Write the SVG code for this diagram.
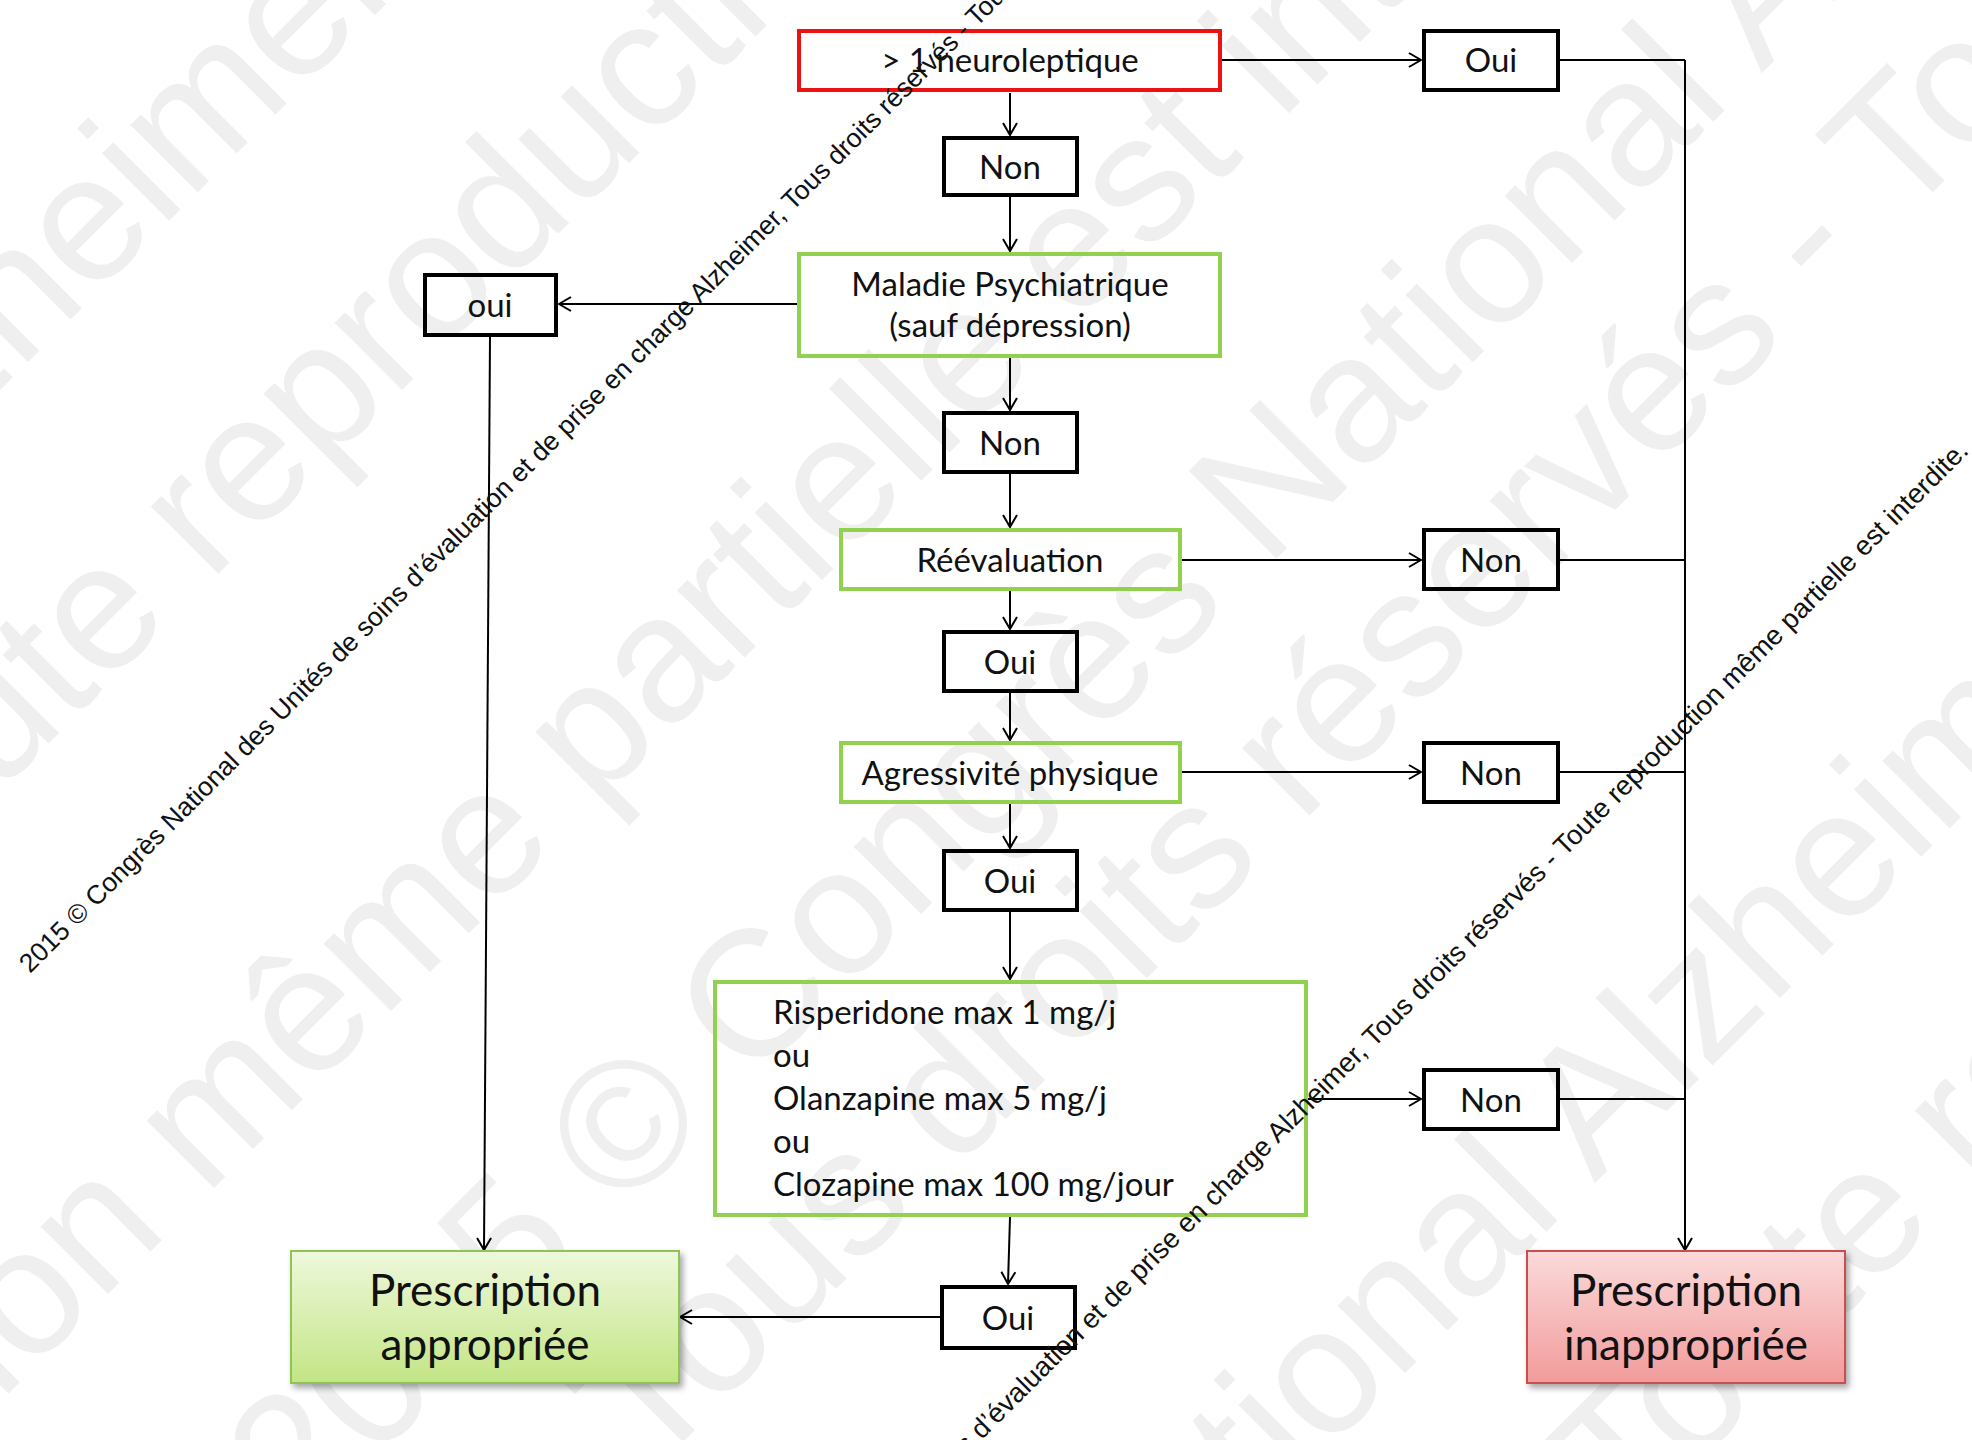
<svg xmlns="http://www.w3.org/2000/svg" width="1972" height="1440" viewBox="0 0 1972 1440">
<defs>
<style>
.lbl{font-family:Lato,"Liberation Sans",sans-serif;font-size:33px;fill:#111;text-anchor:middle}
.big{font-family:Lato,"Liberation Sans",sans-serif;font-size:44px;fill:#111;text-anchor:middle}
.left{font-family:Lato,"Liberation Sans",sans-serif;font-size:33px;fill:#111}
.bx{fill:none;stroke:#000;stroke-width:4}
.gb{fill:none;stroke:#92d050;stroke-width:4}
.rb{fill:none;stroke:#ee1111;stroke-width:4}
.cn{fill:none;stroke:#000;stroke-width:2}
.wm{font-family:"Liberation Sans",Arial,sans-serif;font-size:180px;fill:#efefef}
.wt{font-family:"Liberation Sans",Arial,sans-serif;font-size:26.5px;fill:#111}
</style>
<marker id="ah" markerWidth="14" markerHeight="16" refX="13" refY="8" orient="auto" markerUnits="userSpaceOnUse">
<path d="M1,1 L13,8 L1,15" fill="none" stroke="#000" stroke-width="2"/>
</marker>
<linearGradient id="gG" x1="0" y1="0" x2="0" y2="1">
<stop offset="0" stop-color="#eef8dc"/>
<stop offset="1" stop-color="#c3e584"/>
</linearGradient>
<linearGradient id="gR" x1="0" y1="0" x2="0" y2="1">
<stop offset="0" stop-color="#fbdada"/>
<stop offset="1" stop-color="#f29b9b"/>
</linearGradient>
<filter id="sh" x="-10%" y="-10%" width="125%" height="130%">
<feDropShadow dx="3" dy="4" stdDeviation="3" flood-color="#000" flood-opacity="0.35"/>
</filter>
</defs>
<rect x="0" y="0" width="1972" height="1440" fill="#ffffff"/>

<g id="watermark-gray">
<text class="wm" transform="translate(-1617,2007) rotate(-45)">2015 © Congrès National Alzheimer,</text>
<text class="wm" transform="translate(-1387,2179) rotate(-45)">Tous droits réservés - Toute reproduction même partielle est interdite.</text>
<text class="wm" transform="translate(-2134,3536) rotate(-45)">Tous droits réservés - Toute reproduction même partielle est interdite.</text>
<text class="wm" transform="translate(302,1533) rotate(-45)">2015 © Congrès National Alzheimer,</text>
<text class="wm" transform="translate(650,1475) rotate(-45)">Tous droits réservés - Toute reproduction même partielle est interdite.</text>
<text class="wm" transform="translate(135,2643) rotate(-45)">2015 © Congrès National Alzheimer,</text>
<text class="wm" transform="translate(377,2783) rotate(-45)">Tous droits réservés - Toute reproduction même partielle est interdite.</text>
</g>

<g id="connectors">
<line class="cn" x1="1222" y1="60" x2="1421" y2="60" marker-end="url(#ah)"/>
<line class="cn" x1="1560" y1="60" x2="1685" y2="60"/>
<line class="cn" x1="1685" y1="60" x2="1685" y2="1250" marker-end="url(#ah)"/>
<line class="cn" x1="1560" y1="560" x2="1685" y2="560"/>
<line class="cn" x1="1560" y1="772" x2="1685" y2="772"/>
<line class="cn" x1="1560" y1="1099" x2="1685" y2="1099"/>
<line class="cn" x1="1010" y1="93" x2="1010" y2="135" marker-end="url(#ah)"/>
<line class="cn" x1="1010" y1="197" x2="1010" y2="251" marker-end="url(#ah)"/>
<line class="cn" x1="797" y1="304" x2="559" y2="304" marker-end="url(#ah)"/>
<line class="cn" x1="490" y1="337" x2="484" y2="1250" marker-end="url(#ah)"/>
<line class="cn" x1="1010" y1="358" x2="1010" y2="410" marker-end="url(#ah)"/>
<line class="cn" x1="1010" y1="474" x2="1010" y2="527" marker-end="url(#ah)"/>
<line class="cn" x1="1182" y1="560" x2="1421" y2="560" marker-end="url(#ah)"/>
<line class="cn" x1="1010" y1="591" x2="1010" y2="629" marker-end="url(#ah)"/>
<line class="cn" x1="1010" y1="693" x2="1010" y2="740" marker-end="url(#ah)"/>
<line class="cn" x1="1182" y1="772" x2="1421" y2="772" marker-end="url(#ah)"/>
<line class="cn" x1="1010" y1="804" x2="1010" y2="848" marker-end="url(#ah)"/>
<line class="cn" x1="1010" y1="912" x2="1010" y2="979" marker-end="url(#ah)"/>
<line class="cn" x1="1308" y1="1099" x2="1421" y2="1099" marker-end="url(#ah)"/>
<line class="cn" x1="1010" y1="1217" x2="1008" y2="1284" marker-end="url(#ah)"/>
<line class="cn" x1="940" y1="1317" x2="680" y2="1317" marker-end="url(#ah)"/>
</g>

<g id="n-neuro"><rect class="rb" x="799" y="31" width="421" height="59"/><text class="lbl" x="1010" y="72">&gt; 1 neuroleptique</text></g>
<g id="n-oui-top"><rect class="bx" x="1424" y="31" width="134" height="59"/><text class="lbl" x="1491" y="72">Oui</text></g>
<g id="n-non1"><rect class="bx" x="944" y="138" width="133" height="57"/><text class="lbl" x="1010" y="179">Non</text></g>
<g id="n-maladie"><rect class="gb" x="799" y="254" width="421" height="102"/><text class="lbl" x="1010" y="296">Maladie Psychiatrique</text><text class="lbl" x="1010" y="337">(sauf dépression)</text></g>
<g id="n-oui-left"><rect class="bx" x="425" y="275" width="131" height="60"/><text class="lbl" x="490" y="317">oui</text></g>
<g id="n-non2"><rect class="bx" x="944" y="413" width="133" height="59"/><text class="lbl" x="1010" y="455">Non</text></g>
<g id="n-reeval"><rect class="gb" x="841" y="530" width="339" height="59"/><text class="lbl" x="1010" y="572">Réévaluation</text></g>
<g id="n-non-r1"><rect class="bx" x="1424" y="530" width="134" height="59"/><text class="lbl" x="1491" y="572">Non</text></g>
<g id="n-oui2"><rect class="bx" x="944" y="632" width="133" height="59"/><text class="lbl" x="1010" y="674">Oui</text></g>
<g id="n-agress"><rect class="gb" x="841" y="743" width="339" height="59"/><text class="lbl" x="1010" y="785">Agressivité physique</text></g>
<g id="n-non-r2"><rect class="bx" x="1424" y="743" width="134" height="59"/><text class="lbl" x="1491" y="785">Non</text></g>
<g id="n-oui3"><rect class="bx" x="944" y="851" width="133" height="59"/><text class="lbl" x="1010" y="893">Oui</text></g>
<g id="n-traitement"><rect class="gb" x="715" y="982" width="591" height="233"/>
<text class="left" x="773" y="1024">Risperidone max 1 mg/j</text>
<text class="left" x="773" y="1067">ou</text>
<text class="left" x="773" y="1110">Olanzapine max 5 mg/j</text>
<text class="left" x="773" y="1153">ou</text>
<text class="left" x="773" y="1196">Clozapine max 100 mg/jour</text></g>
<g id="n-non-r3"><rect class="bx" x="1424" y="1070" width="134" height="59"/><text class="lbl" x="1491" y="1112">Non</text></g>
<g id="n-oui4"><rect class="bx" x="942" y="1287" width="133" height="61"/><text class="lbl" x="1008" y="1330">Oui</text></g>
<g id="n-appropriee"><rect x="291" y="1251" width="388" height="132" fill="url(#gG)" stroke="#8dc453" stroke-width="2" filter="url(#sh)"/><text class="big" x="485" y="1306">Prescription</text><text class="big" x="485" y="1360">appropriée</text></g>
<g id="n-inappropriee"><rect x="1527" y="1251" width="318" height="132" fill="url(#gR)" stroke="#c9504d" stroke-width="2" filter="url(#sh)"/><text class="big" x="1686" y="1306">Prescription</text><text class="big" x="1686" y="1360">inappropriée</text></g>

<g id="watermark-black">
<text class="wt" transform="translate(30,974) rotate(-45)">2015 © Congrès National des Unités de soins d’évaluation et de prise en charge Alzheimer, Tous droits réservés - Toute reproduction même partielle est interdite.</text>
<text class="wt" style="font-size:27.5px" text-anchor="end" transform="translate(1970,452) rotate(-45)">2015 © Congrès National des Unités de soins d’évaluation et de prise en charge Alzheimer, Tous droits réservés - Toute reproduction même partielle est interdite.</text>
</g>
</svg>
